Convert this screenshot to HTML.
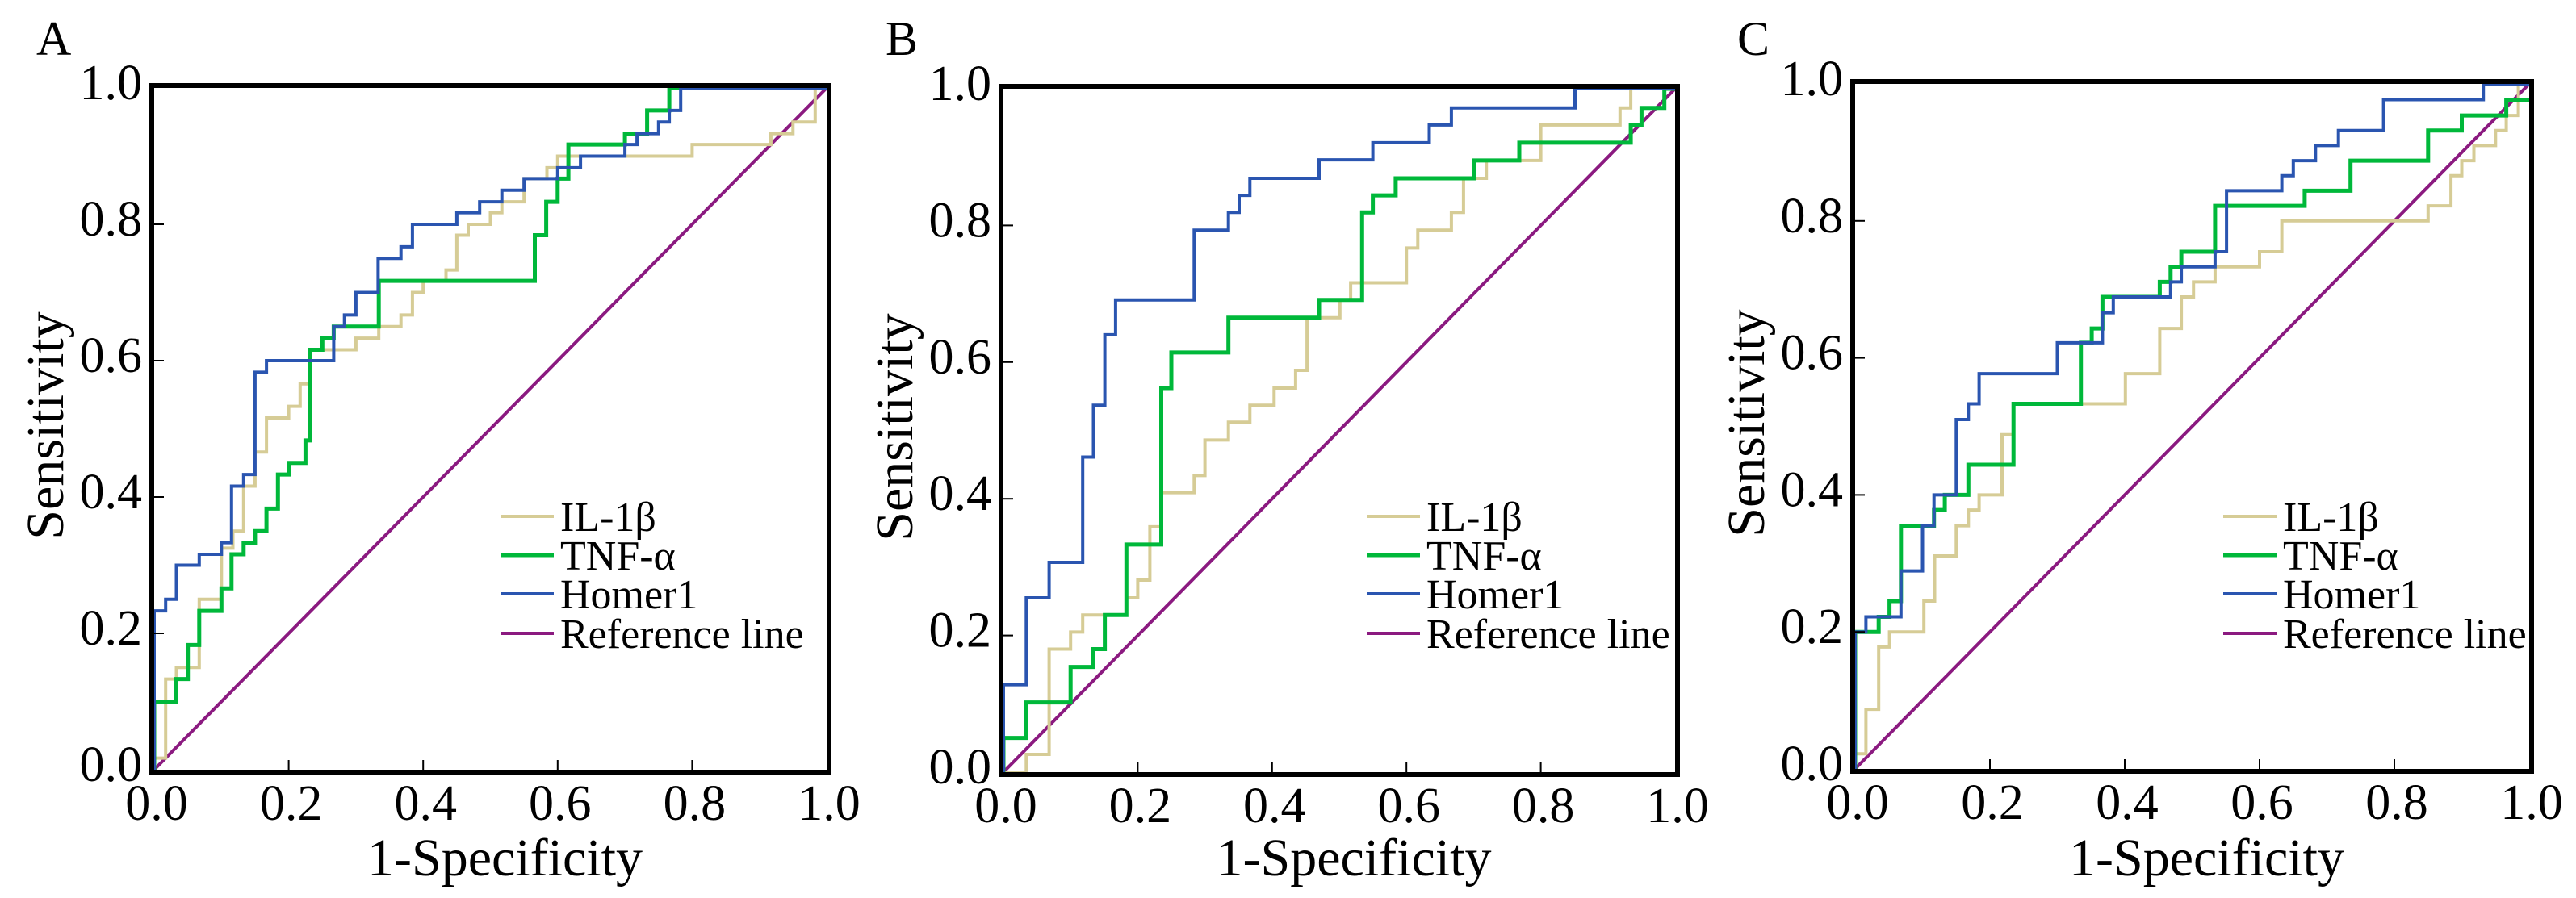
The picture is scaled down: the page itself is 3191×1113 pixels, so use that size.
<!DOCTYPE html>
<html><head><meta charset="utf-8"><style>
html,body{margin:0;padding:0;background:#fff;}
svg{display:block;font-family:"Liberation Serif","DejaVu Serif",serif;}
svg text{font-family:"Liberation Serif","DejaVu Serif",serif;fill:#000;}
</style></head>
<body>
<svg id="fig" width="3191" height="1113" viewBox="0 0 3191 1113" xmlns="http://www.w3.org/2000/svg" font-family="Liberation Serif, DejaVu Serif, serif"></svg>
<script>
const tickValues = [0, 0.2, 0.4, 0.6, 0.8, 1.0];
const tickLabels = ["0.0", "0.2", "0.4", "0.6", "0.8", "1.0"];
const seriesNames = ["IL-1β", "TNF-α", "Homer1", "Reference line"];

const aIlX = [0,0.017,0.033,0.067,0.1,0.117,0.133,0.15,0.167,0.2,0.217,0.232,0.3,0.334,0.367,0.384,0.4,0.434,0.45,0.467,0.5,0.517,0.55,0.584,0.6,0.8,0.917,0.95,0.983,1];
const aIlY = [0.017,0.133,0.15,0.25,0.325,0.35,0.416,0.466,0.516,0.533,0.566,0.616,0.633,0.65,0.667,0.70,0.717,0.733,0.784,0.8,0.817,0.833,0.867,0.883,0.9,0.917,0.933,0.95,1,1];
const aTnfX = [0,0.033,0.05,0.067,0.1,0.115,0.133,0.15,0.167,0.184,0.2,0.225,0.232,0.25,0.267,0.334,0.566,0.583,0.6,0.616,0.7,0.733,0.766,1];
const aTnfY = [0.1,0.133,0.183,0.233,0.266,0.316,0.333,0.35,0.383,0.433,0.45,0.483,0.616,0.633,0.65,0.717,0.784,0.833,0.867,0.917,0.933,0.967,1,1];
const aHomX = [0,0.017,0.033,0.067,0.1,0.115,0.133,0.15,0.167,0.267,0.283,0.3,0.333,0.367,0.384,0.45,0.484,0.517,0.55,0.6,0.634,0.7,0.718,0.75,0.766,0.783,1];
const aHomY = [0.233,0.25,0.30,0.316,0.333,0.416,0.433,0.583,0.6,0.65,0.667,0.70,0.75,0.767,0.80,0.817,0.833,0.85,0.867,0.883,0.9,0.917,0.933,0.95,0.967,1,1];

const bIlX = [0,0.034,0.068,0.1,0.118,0.183,0.2,0.218,0.235,0.284,0.3,0.335,0.367,0.403,0.435,0.452,0.501,0.517,0.6,0.617,0.667,0.685,0.719,0.8,0.918,0.934,1];
const bIlY = [0,0.026,0.18,0.205,0.23,0.255,0.281,0.359,0.409,0.434,0.486,0.512,0.537,0.562,0.588,0.665,0.691,0.716,0.767,0.793,0.819,0.869,0.895,0.947,0.972,1,1];
const bTnfX = [0,0.034,0.1,0.134,0.151,0.183,0.235,0.25,0.335,0.47,0.534,0.55,0.584,0.701,0.768,0.934,0.95,0.984,1];
const bTnfY = [0.05,0.102,0.154,0.18,0.23,0.333,0.562,0.614,0.665,0.691,0.819,0.844,0.869,0.895,0.921,0.947,0.972,1,1];
const bHomX = [0,0.034,0.068,0.118,0.134,0.151,0.167,0.284,0.335,0.351,0.367,0.47,0.55,0.634,0.667,0.851,1];
const bHomY = [0.128,0.255,0.307,0.461,0.537,0.64,0.691,0.793,0.819,0.844,0.869,0.896,0.921,0.947,0.972,1,1];

const cIlX = [0,0.016,0.035,0.051,0.102,0.118,0.15,0.168,0.184,0.218,0.235,0.401,0.452,0.484,0.502,0.534,0.6,0.633,0.85,0.884,0.9,0.918,0.95,0.966,0.984,1];
const cIlY = [0.022,0.087,0.178,0.2,0.245,0.311,0.355,0.378,0.4,0.488,0.533,0.577,0.643,0.689,0.711,0.733,0.755,0.8,0.822,0.866,0.888,0.91,0.932,0.954,1,1];
const cTnfX = [0,0.035,0.051,0.068,0.117,0.133,0.168,0.235,0.335,0.351,0.367,0.452,0.468,0.484,0.534,0.667,0.735,0.85,0.9,0.966,1];
const cTnfY = [0.2,0.222,0.245,0.355,0.378,0.4,0.444,0.533,0.622,0.643,0.689,0.711,0.733,0.755,0.822,0.844,0.888,0.932,0.954,0.977,0.977];
const cHomX = [0,0.016,0.068,0.1,0.117,0.15,0.168,0.184,0.3,0.367,0.383,0.468,0.484,0.534,0.551,0.633,0.65,0.683,0.717,0.784,0.932,1];
const cHomY = [0.2,0.222,0.289,0.355,0.4,0.51,0.533,0.577,0.622,0.666,0.689,0.711,0.733,0.755,0.844,0.866,0.888,0.91,0.932,0.977,1,1];

const colors = ["#d6cc96", "#00b83a", "#2a55b0", "#8b1a80"];
const FONT = "Liberation Serif, DejaVu Serif, serif";
const NS = "http://www.w3.org/2000/svg";
const svg = document.getElementById("fig");

function mk(tag, attrs, parent) {
  const e = document.createElementNS(NS, tag);
  for (const k in attrs) e.setAttribute(k, attrs[k]);
  if (tag === "text") e.setAttribute("font-family", FONT);
  parent.appendChild(e);
  return e;
}

const panels = [
  {letter:"A", l:188, t:106, r:1027, b:957, leg:432, series:[[aIlX,aIlY],[aTnfX,aTnfY],[aHomX,aHomY]]},
  {letter:"B", l:1240, t:107, r:2078, b:960, leg:453, series:[[bIlX,bIlY],[bTnfX,bTnfY],[bHomX,bHomY]]},
  {letter:"C", l:2295, t:101, r:3136, b:956, leg:459, series:[[cIlX,cIlY],[cTnfX,cTnfY],[cHomX,cHomY]]}
];

panels.forEach(p => {
  const g = mk("g", {}, svg);
  
  
  const X = v => p.l + 3 + v * (p.r - p.l - 6);
  const Y = v => p.b - 3 - v * (p.b - p.t - 6);

  const lt = mk("text", {x: p.l - 143, y: 68, "font-size": 60}, g);
  lt.textContent = p.letter;
  
  

  const ref = mk("line", {x1: X(0), y1: Y(0), x2: X(1), y2: Y(1), stroke: colors[3], "stroke-width": 4}, g);
  
  

  const names = ["il1b-curve", "tnfa-curve", "homer1-curve"];
  p.series.forEach((s, i) => {
    const xs = s[0], ys = s[1];
    let d = "M" + X(0) + "," + Y(0);
    for (let k = 0; k < xs.length; k++) {
      d += " H" + X(xs[k]).toFixed(1) + " V" + Y(ys[k]).toFixed(1);
    }
    const path = mk("path", {d: d, fill: "none", stroke: colors[i], "stroke-width": i === 1 ? 5 : 4, "stroke-linejoin": "miter"}, g);
    
    
  });

  tickValues.forEach((v, i) => {
    if (i > 0 && i < tickValues.length - 1) {
      const tx = mk("line", {x1: X(v), y1: p.b, x2: X(v), y2: p.b - 15, stroke: "#000", "stroke-width": 2}, g);
      
      
      const ty = mk("line", {x1: p.l, y1: Y(v), x2: p.l + 15, y2: Y(v), stroke: "#000", "stroke-width": 2}, g);
      
      
    }
    const xl = mk("text", {x: X(v) + 3, y: p.b + 59, "font-size": 62, "text-anchor": "middle"}, g);
    xl.textContent = tickLabels[i];
    
    
    const yl = mk("text", {x: p.l - 12, y: Y(v) + 14, "font-size": 62, "text-anchor": "end"}, g);
    yl.textContent = tickLabels[i];
    
    
  });

  const fr = mk("rect", {x: p.l, y: p.t, width: p.r - p.l, height: p.b - p.t, fill: "none", stroke: "#000", "stroke-width": 6}, g);
  
  

  const xt = mk("text", {x: (p.l + p.r) / 2 + 18, y: 1085, "font-size": 66, "text-anchor": "middle"}, g);
  xt.textContent = "1-Specificity";
  
  
  const cx = p.l - 110, cy = (p.t + p.b) / 2 - 4;
  const yt = mk("text", {x: cx, y: cy, "font-size": 66, "text-anchor": "middle", transform: "rotate(-90 " + cx + " " + cy + ")"}, g);
  yt.textContent = "Sensitivity";
  
  

  const lg = mk("g", {}, g);
  
  
  const rows = [640, 688, 736, 785];
  seriesNames.forEach((n, i) => {
    const ll = mk("line", {x1: p.l + p.leg, y1: rows[i], x2: p.l + p.leg + 66, y2: rows[i], stroke: colors[i], "stroke-width": i === 1 ? 5 : 4}, lg);
    
    
    const tx = mk("text", {x: p.l + p.leg + 74, y: rows[i] + 18, "font-size": 52}, lg);
    tx.textContent = n;
    
    
  });
});
</script>
</body></html>
